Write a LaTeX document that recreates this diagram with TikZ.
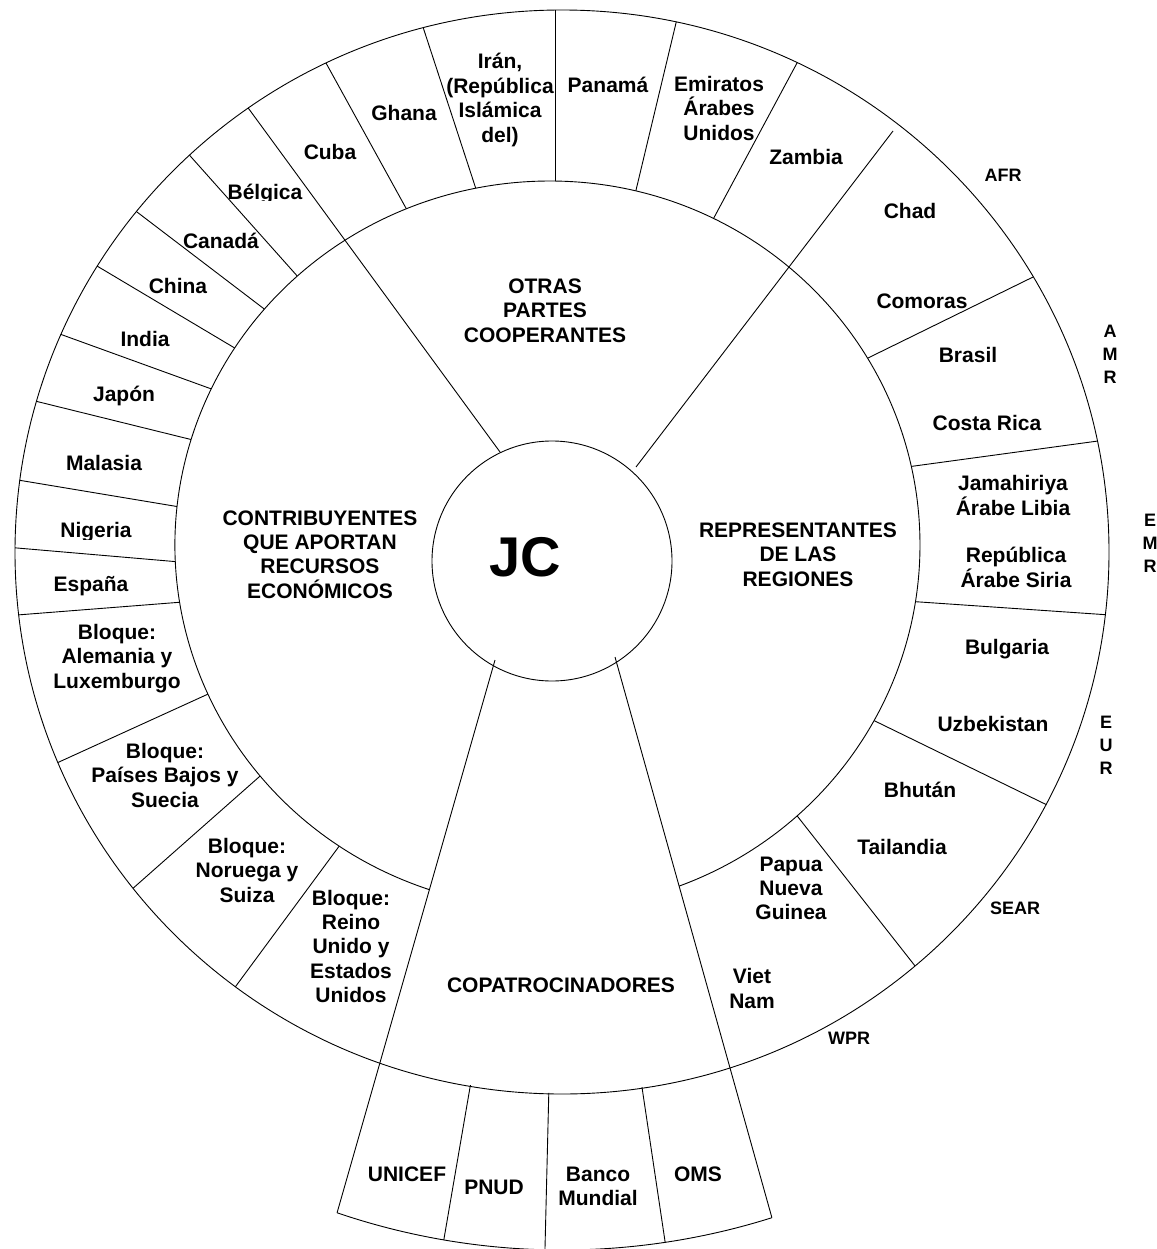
\documentclass[tikz,border=0pt]{standalone}
\usepackage{fontspec}
\setmainfont{Liberation Sans}
\usetikzlibrary{calc}
\tikzset{
  lbl/.style={font=\bfseries\fontsize{21}{24.4}\selectfont, align=center, inner sep=0pt,
    execute at begin node=\strut, execute at end node=\strut},
  reg/.style={font=\bfseries\fontsize{18}{22.8}\selectfont, align=center, inner sep=0pt,
    execute at begin node=\strut, execute at end node=\strut},
  big/.style={font=\bfseries\fontsize{56}{60}\selectfont, inner sep=0pt},
  ln/.style={line width=0.9pt, draw=black},
  ext/.style={shorten <=-20pt, shorten >=-20pt},
  extout/.style={shorten <=-20pt},
}
\begin{document}
\begin{tikzpicture}[x=1pt,y=-1pt]
\fill[white] (0,0) rectangle (1156,1249);
\useasboundingbox (0,0) rectangle (1156,1249);

% centres
\coordinate (O) at (562,552);
\coordinate (Mc) at (550,545);
\coordinate (J) at (552,561);

% ring separators (outer end, inner end)
\coordinate (r1o) at (555,10);   \coordinate (r1i) at (555,183);
\coordinate (r2o) at (422,24);   \coordinate (r2i) at (475,186);
\coordinate (r3o) at (326,63);   \coordinate (r3i) at (407,210);
\coordinate (r5o) at (192,158);  \coordinate (r5i) at (299,278);
\coordinate (r6o) at (137,212);  \coordinate (r6i) at (259,305);
\coordinate (r7o) at (97,266);   \coordinate (r7i) at (233,347);
\coordinate (r8o) at (57,333);   \coordinate (r8i) at (206,387);
\coordinate (r9o) at (31,400);   \coordinate (r9i) at (193,440);
\coordinate (r10o) at (18,480);  \coordinate (r10i) at (180,507);
\coordinate (r11o) at (17,548);  \coordinate (r11i) at (180,562);
\coordinate (r12o) at (17,615);  \coordinate (r12i) at (183,602);
\coordinate (r13o) at (59,762);  \coordinate (r13i) at (206,695);
\coordinate (r14o) at (139,883); \coordinate (r14i) at (259,777);
\coordinate (r15o) at (233,990); \coordinate (r15i) at (340,845);
\coordinate (r16o) at (676,23);  \coordinate (r16i) at (637,186);
\coordinate (r17o) at (797,63);  \coordinate (r17i) at (717,212);
\coordinate (r19o) at (1029,279);\coordinate (r19i) at (868,358);
\coordinate (r20o) at (1098,441);\coordinate (r20i) at (907,467);
\coordinate (r21o) at (1110,615);\coordinate (r21i) at (920,602);
\coordinate (r22o) at (1043,803);\coordinate (r22i) at (879,723);
\coordinate (r23o) at (908,957); \coordinate (r23i) at (798,817);

% sector separators
\coordinate (sULo) at (246,105); \coordinate (sULi) at (500,452);
\coordinate (sURo) at (893,131); \coordinate (sURi) at (636,467);
\coordinate (cLi) at (495,660);  \coordinate (Bl) at (337.07,1212.77);
\coordinate (cRi) at (615,657);  \coordinate (Br) at (771.9,1217.7);
\coordinate (Lj) at (429.38,889.66);

% ring separators, clipped to the outer circle
\begin{scope}
  \clip (O) ellipse [x radius=547, y radius=542];
  \foreach \k in {1,2,3,5,6,7,8,9,10,11,12,13,14,15,16,17,19,20,21,22,23}
    \draw[ln,ext] (r\k o) -- (r\k i);
\end{scope}

% inner area (covers inner ends of ring separators)
\fill[white] (550,181) arc[start angle=270, end angle=90, x radius=375, y radius=364]
  arc[start angle=90, end angle=-90, x radius=370, y radius=364] -- cycle;

% upper sector separators
\begin{scope}
  \clip (O) ellipse [x radius=547, y radius=542];
  \draw[ln,extout] (sULo) -- (sULi);
\end{scope}
\draw[ln] (sURo) -- (sURi);

% middle circle (open over the co-sponsor sector)
\draw[ln] (Lj) arc[start angle=108.76, end angle=270, x radius=375, y radius=364]
  arc[start angle=270, end angle=429.58, x radius=370, y radius=364];

% outer circle
\draw[ln] (O) ellipse [x radius=547, y radius=542];

% bottom ring of co-sponsors
\draw[ln] (Bl) arc[start angle=108.8, end angle=72.5, radius=698];
\draw[ln] ($(O)+(99.75:541)$) -- ($(O)+(99.75:698)$);
\draw[ln] ($(O)+(91.4:541)$) -- ($(O)+(91.4:698)$);
\draw[ln] ($(O)+(81.5:541)$) -- ($(O)+(81.5:698)$);

% JC circle
\draw[ln, fill=white] (J) circle[radius=120];
\node[big] (jc) at (525,557) {JC};

% co-sponsor sector separators
\draw[ln] (cLi) -- (Bl);
\draw[ln] (cRi) -- (Br);

% section titles
\node[lbl] (otr) at (545,314) {OTRAS\\PARTES\\COOPERANTES};
\node[lbl] (con) at (320,558) {CONTRIBUYENTES\\QUE APORTAN\\RECURSOS\\ECONÓMICOS};
\node[lbl] (rep) at (798,558) {REPRESENTANTES\\DE LAS\\REGIONES};
\node[lbl] (cop) at (561,988) {COPATROCINADORES};

% other cooperating parties
\node[lbl] (irn) at (500,101.5) {Irán,\\(República\\Islámica\\del)};
\node[lbl] (pan) at (608,88) {Panamá};
\node[lbl] (emi) at (719,112) {Emiratos\\Árabes\\Unidos};
\node[lbl] (zam) at (806,160) {Zambia};
\node[lbl] (gha) at (404,116) {Ghana};
\node[lbl] (cub) at (330,155) {Cuba};

% contributors
\begin{scope}
  \clip (215,165) rectangle (320,201);
  \node[lbl] (bel) at (265,195) {Bélgica};
\end{scope}
\node[lbl] (can) at (221,244) {Canadá};
\node[lbl] (chi) at (178,289) {China};
\node[lbl] (ind) at (145,342) {India};
\node[lbl] (jap) at (124,397) {Japón};
\node[lbl] (mal) at (104,466) {Malasia};
\begin{scope}
  \clip (50,505) rectangle (145,539);
  \node[lbl] (nig) at (96,533) {Nigeria};
\end{scope}
\node[lbl] (esp) at (91,587) {España};
\node[lbl] (bal) at (117,660) {Bloque:\\Alemania y\\Luxemburgo};
\node[lbl] (bpb) at (165,779) {Bloque:\\Países Bajos y\\Suecia};
\node[lbl] (bns) at (247,874) {Bloque:\\Noruega y\\Suiza};
\node[lbl] (bru) at (351,950) {Bloque:\\Reino\\Unido y\\Estados\\Unidos};

% regions
\node[reg] (afr) at (1003,177) {AFR};
\node[lbl] (chd) at (910,214) {Chad};
\node[lbl] (com) at (922,304) {Comoras};
\node[lbl] (bra) at (968,358) {Brasil};
\node[reg] (amr) at (1110,358) {A\\M\\R};
\node[lbl] (cri) at (987,426) {Costa Rica};
\node[lbl] (jam) at (1013,499) {Jamahiriya\\Árabe Libia};
\node[lbl] (sir) at (1016,571) {República\\Árabe Siria};
\node[reg] (emr) at (1150,547) {E\\M\\R};
\node[lbl] (bul) at (1007,650) {Bulgaria};
\node[lbl] (uzb) at (993,727) {Uzbekistan};
\node[reg] (eur) at (1106,749) {E\\U\\R};
\node[lbl] (bhu) at (920,793) {Bhután};
\node[lbl] (tai) at (902,850) {Tailandia};
\node[reg] (sea) at (1015,910) {SEAR};
\node[lbl] (pap) at (791,892) {Papua\\Nueva\\Guinea};
\node[lbl] (vie) at (752,992) {Viet\\Nam};
\node[reg] (wpr) at (849,1040) {WPR};

% co-sponsors
\node[lbl] (uni) at (407,1177) {UNICEF};
\node[lbl] (pnu) at (494,1190) {PNUD};
\node[lbl] (ban) at (598,1190) {Banco\\Mundial};
\node[lbl] (oms) at (698,1177) {OMS};
\end{tikzpicture}
\end{document}
